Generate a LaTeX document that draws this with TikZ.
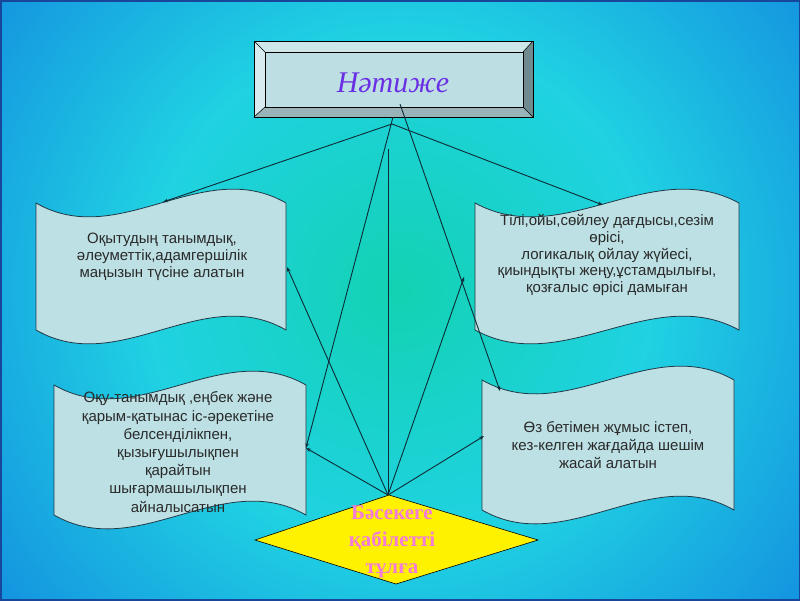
\documentclass[tikz,border=0pt]{standalone}
\usepackage{fontspec}
\setmainfont{Liberation Sans}
\newfontfamily\seriffam{Liberation Serif}
\usetikzlibrary{arrows.meta}
\definecolor{bgc}{HTML}{12D2B2}
\definecolor{bgcy}{HTML}{20D2E2}
\definecolor{bgb}{HTML}{1494E0}
\definecolor{bgd}{HTML}{0A76D6}
\definecolor{bgdd}{HTML}{0A66CA}
\definecolor{bord}{HTML}{18469A}
\definecolor{face}{HTML}{BDDFE3}
\definecolor{bevT}{HTML}{CDE6E9}
\definecolor{bevL}{HTML}{D8ECEE}
\definecolor{bevR}{HTML}{6F8B90}
\definecolor{bevB}{HTML}{98B4B8}
\definecolor{titlec}{HTML}{6A2EE4}
\definecolor{scrollc}{HTML}{BCE0E4}
\definecolor{scrolledge}{HTML}{1E3A48}
\definecolor{textc}{HTML}{2A2A2A}
\definecolor{linec}{HTML}{0E2A36}
\definecolor{pinkc}{HTML}{F27CD8}
\pgfdeclareradialshading{bgshade}{\pgfpoint{0bp}{0bp}}{color(0bp)=(bgc); color(6bp)=(bgc!55!bgcy); color(14bp)=(bgcy); color(28bp)=(bgb); color(40bp)=(bgd); color(54bp)=(bgdd); color(70bp)=(bgdd)}
\newcommand\wavy[4]{\draw[scrollbox] (#1,#2) .. controls ({#1+(#3-#1)/3},{#2+48}) and ({#1+2*(#3-#1)/3},{#2-48}) .. (#3,#2) -- (#3,#4) .. controls ({#1+2*(#3-#1)/3},{#4-48}) and ({#1+(#3-#1)/3},{#4+48}) .. (#1,#4) -- cycle;}
\begin{document}
\begin{tikzpicture}[x=1pt,y=-1pt,
  scrollbox/.style={fill=scrollc, draw=scrolledge, line width=0.8pt},
  stext/.style={font=\fontsize{15}{17}\selectfont, align=center, text=textc, inner sep=0pt},
  conn/.style={draw=linec, line width=0.9pt},
  arr/.style={conn, -{Stealth[length=5pt,width=3.6pt]}},
  bevel/.style={draw=black, line width=0.5pt}]
\useasboundingbox (0,0) rectangle (800,600);
\begin{scope}
\clip (0,0) rectangle (800,600);
\shade[shading=bgshade] (-50,-160) rectangle (850,740);
\end{scope}
\draw[bord, line width=3pt] (0,0) rectangle (800,600);
% title box
\coordinate (oTL) at (254,41); \coordinate (oTR) at (533,41);
\coordinate (oBR) at (533,117); \coordinate (oBL) at (254,117);
\coordinate (iTL) at (265,52); \coordinate (iTR) at (523,52);
\coordinate (iBR) at (523,107); \coordinate (iBL) at (265,107);
\fill[bevT] (oTL) -- (oTR) -- (iTR) -- (iTL) -- cycle;
\fill[bevL] (oTL) -- (iTL) -- (iBL) -- (oBL) -- cycle;
\fill[bevR] (oTR) -- (oBR) -- (iBR) -- (iTR) -- cycle;
\fill[bevB] (oBL) -- (oBR) -- (iBR) -- (iBL) -- cycle;
\fill[face] (iTL) rectangle (iBR);
\draw[bevel] (iTL) rectangle (iBR);
\draw[bevel] (oTL) -- (iTL) (oTR) -- (iTR) (oBR) -- (iBR) (oBL) -- (iBL);
\draw[bevel, line width=0.8pt] (oTL) rectangle (oBR);
\node[font=\seriffam\itshape\fontsize{30}{30}\selectfont, text=titlec] (title) at (393,83) {Нәтиже};
% scrolls
\wavy{36}{203}{286}{330}
\wavy{475}{203}{739}{330}
\wavy{54}{385}{306}{515}
\wavy{482}{380}{734}{510}
% diamond
\coordinate (dT) at (389,495); \coordinate (dR) at (538,540);
\coordinate (dB) at (396,584); \coordinate (dL) at (255,540);
\draw[fill=yellow, draw=black, line width=0.6pt] (dT) -- (dR) -- (dB) -- (dL) -- cycle;
% connectors
\coordinate (apex) at (392,124);
\coordinate (boxb) at (393,117);
\coordinate (boxin) at (400,104);
\coordinate (vtop) at (388,149);
\coordinate (dtop) at (388,495);
\coordinate (a1) at (163,202);
\coordinate (a2) at (603,205);
\coordinate (a3) at (306,448);
\coordinate (a4) at (500,391);
\coordinate (a5) at (287,267);
\coordinate (a6) at (464,277);
\coordinate (a7) at (484,436);
\draw[arr] (apex) -- (a1);
\draw[arr] (apex) -- (a2);
\draw[arr] (boxb) -- (a3);
\draw[arr] (boxin) -- (a4);
\draw[arr] (dtop) -- (a5);
\draw[arr] (dtop) -- (a6);
\draw[arr] (dtop) -- (a7);
\draw[arr] (dtop) -- (a3);
\draw[conn] (dtop) -- (vtop);
% texts
\node[stext] (t1) at (162,257) {Оқытудың танымдық,\\әлеуметтік,адамгершілік\\маңызын түсіне алатын};
\node[stext, font=\fontsize{15}{16.6}\selectfont] (t2) at (607,255) {Тілі,ойы,сөйлеу дағдысы,сезім\\өрісі,\\логикалық ойлау жүйесі,\\қиындықты жеңу,ұстамдылығы,\\қозғалыс өрісі дамыған};
\node[stext, font=\fontsize{15}{18.2}\selectfont] (t3) at (178,452) {Оқу-танымдық ,еңбек және\\қарым-қатынас іс-әрекетіне\\белсенділікпен,\\қызығушылықпен\\қарайтын\\шығармашылықпен\\айналысатын};
\node[stext, font=\fontsize{15}{18}\selectfont] (t4) at (608,445) {Өз бетімен жұмыс істеп,\\кез-келген жағдайда шешім\\жасай алатын};
\node[font=\seriffam\bfseries\fontsize{21}{27}\selectfont, text=pinkc, align=center, inner sep=0pt] (t5) at (392,542) {Бәсекеге\\қабілетті\\тұлға};
\end{tikzpicture}
\end{document}
